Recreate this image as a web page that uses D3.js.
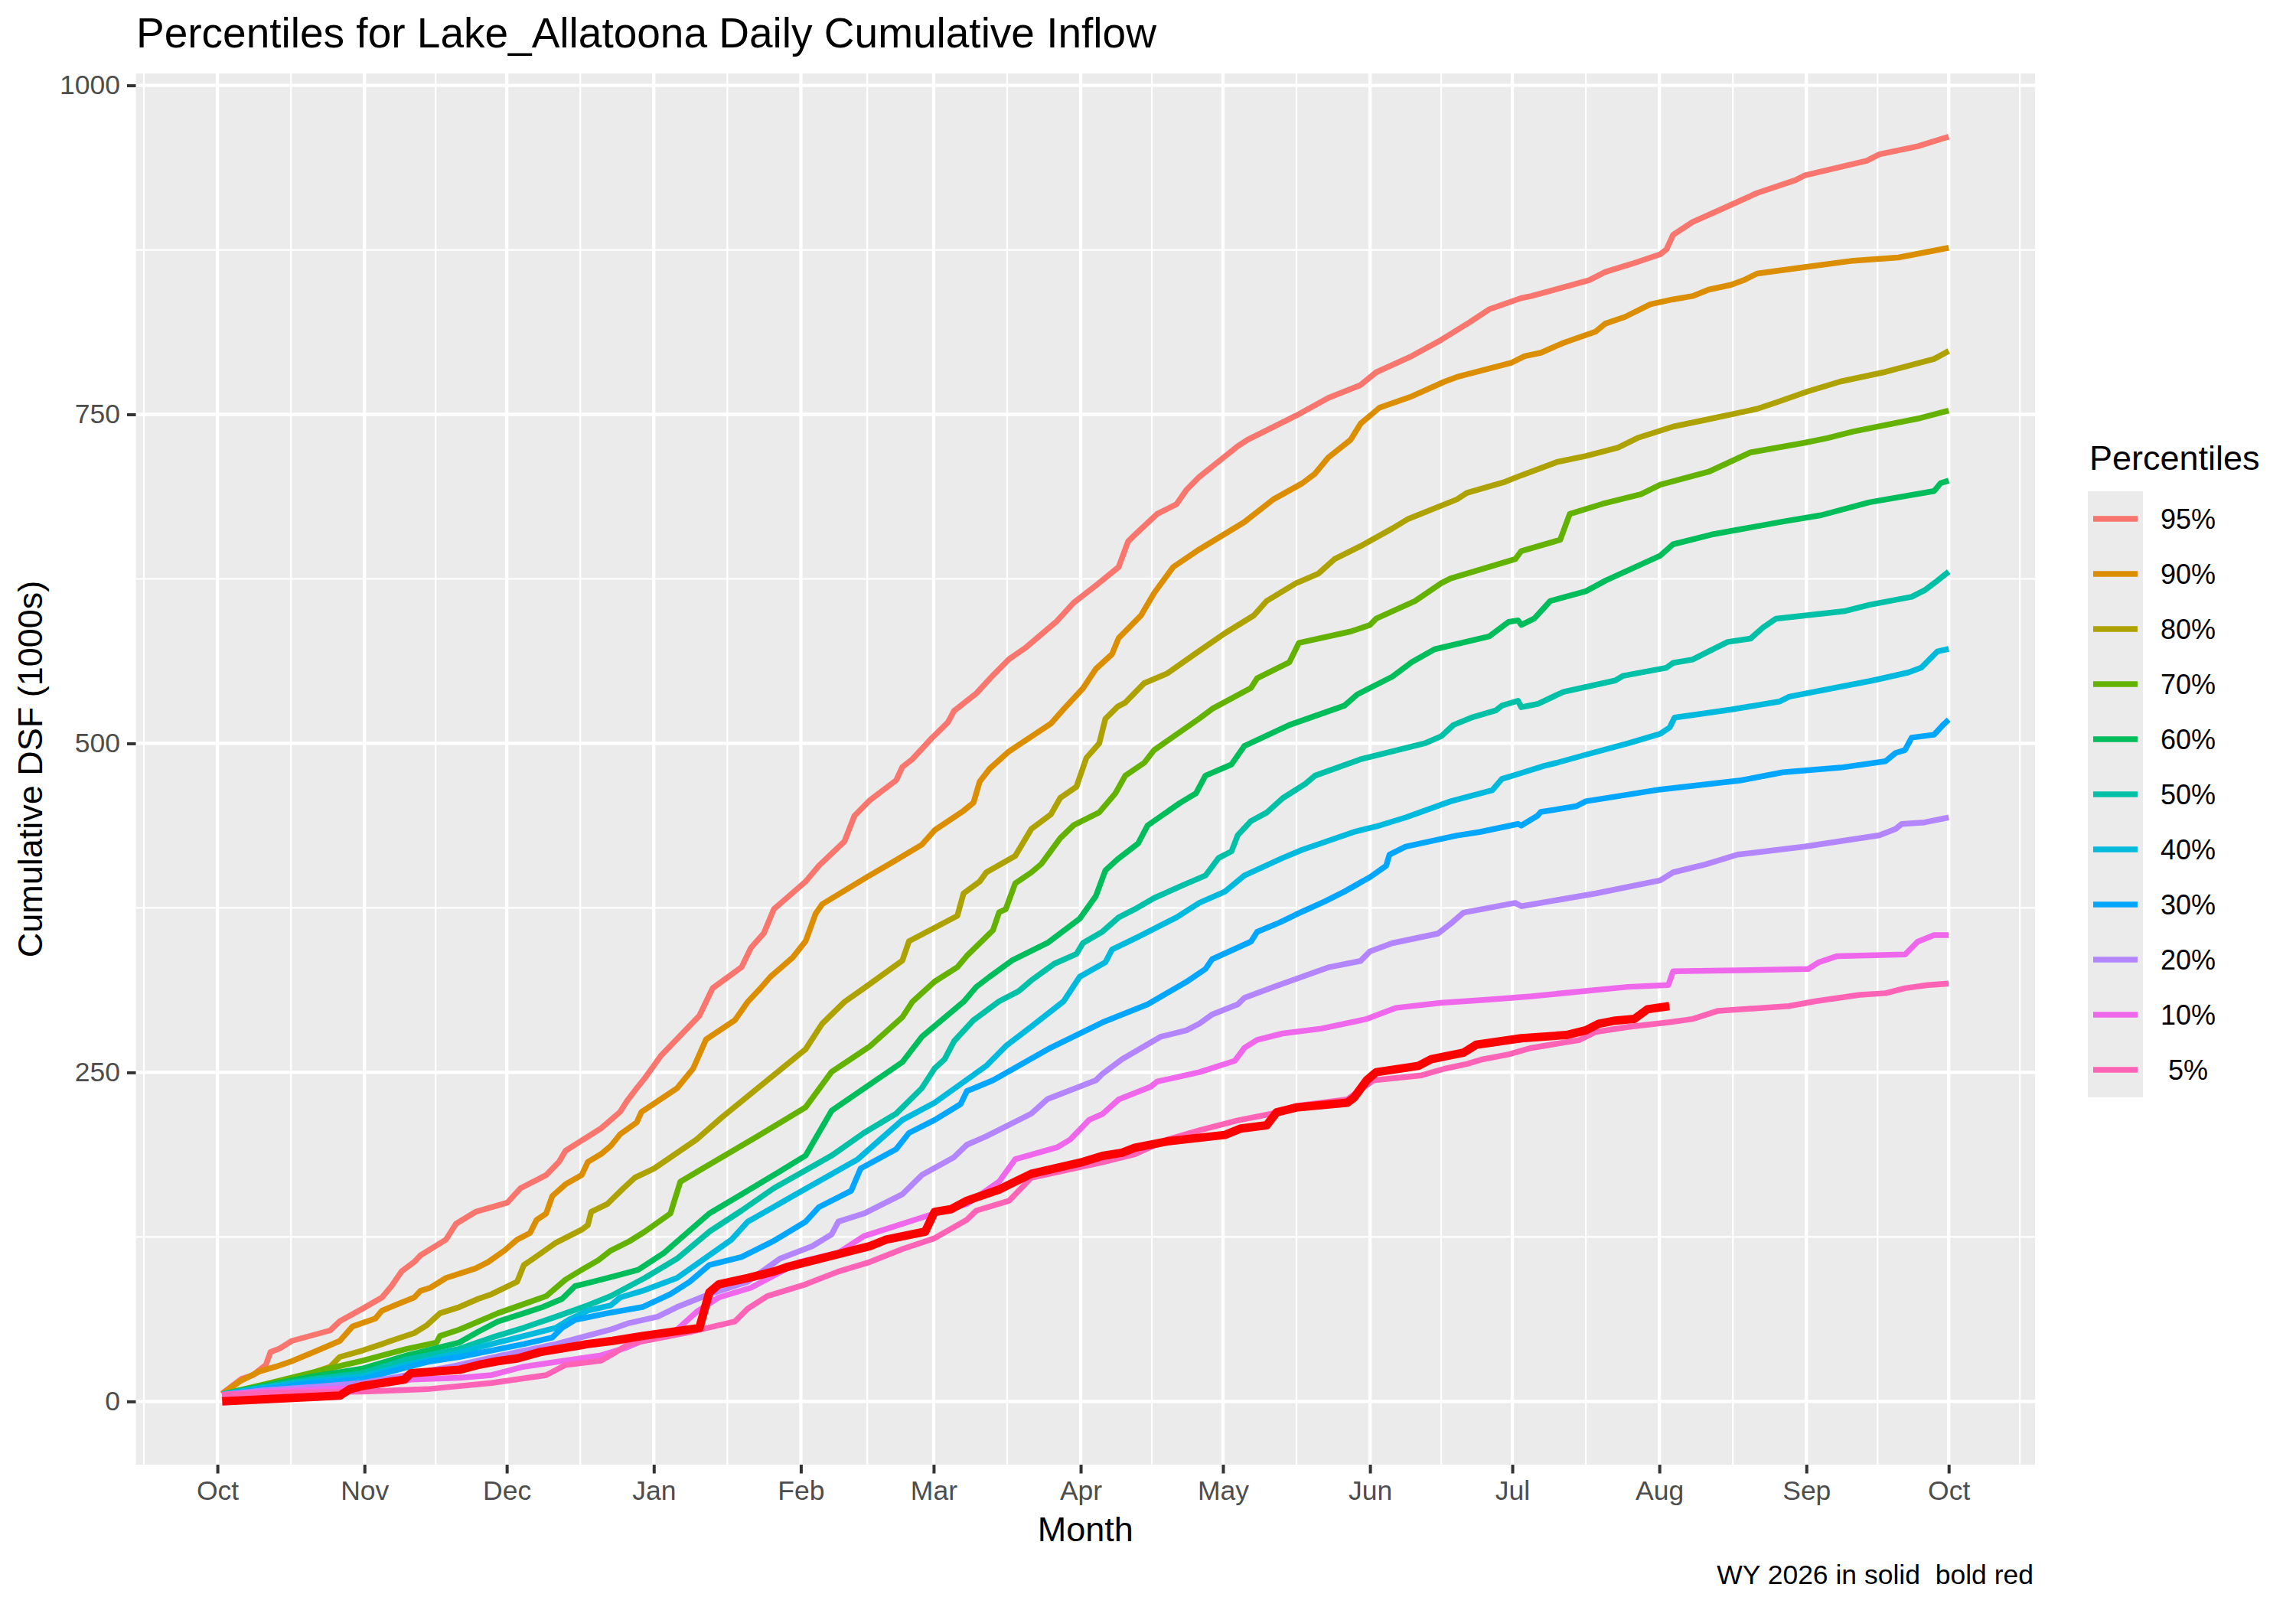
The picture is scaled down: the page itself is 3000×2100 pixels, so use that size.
<!doctype html>
<html>
  <head>
    <meta charset="utf-8">
    <title>Percentiles for Lake_Allatoona Daily Cumulative Inflow</title>
    <style>
      body { margin: 0; background: #fff; }
      svg { display: block; font-family: "Liberation Sans", Arial, sans-serif; }
      .panel { fill: #ebebeb; }
      .grid-major { stroke: #fff; stroke-width: 4.3px; }
      .grid-minor { stroke: #fff; stroke-width: 2.2px; }
      .axis text { fill: #4d4d4d; font-size: 35.5px; font-family: "Liberation Sans", Arial, sans-serif; }
      .axis line { stroke: #333; stroke-width: 4px; }
      .axis path { display: none; }
      .pline { fill: none; stroke-width: 7.5px; stroke-linejoin: round; stroke-linecap: butt; }
      .wyline { fill: none; stroke: #ff0000; stroke-width: 11px; stroke-linejoin: round; }
    </style>
  </head>
  <body>

  <script src="https://d3js.org/d3.v7.min.js" charset="utf-8"></script>

    <script>

    // series values: [day since Oct 1, cumulative DSF (1000s)]
    var p95 = [[1,6],[5,17],[7.5,20],[10.2,27.7],[11.2,37.5],[13,40],[15.7,46],[23.8,54],[25.8,61],[30.6,70.5],[34.7,79],[36.7,87.7],[38.8,98.7],[41.5,106],[42.8,111],[48.2,123],[50.3,135],[54.4,144],[61.1,151],[63.9,162],[69.3,172],[72,182],[73.4,190.5],[80.9,207.6],[84.9,220],[86.3,228],[88.4,238],[90.1,245.6],[93.5,262.7],[101.6,293],[104.4,314],[110.5,330],[112.5,344.8],[115.2,355.8],[117.3,374],[124,395],[126.8,407],[132.2,425.6],[134.3,445],[137.6,457],[143.1,472],[144.4,482],[146.5,488],[150.6,504],[154,516],[155.3,524.7],[160,538],[163.5,551.7],[166.9,564],[170.3,572.5],[177,593],[180.5,606.8],[185.2,620],[190,634],[192,653.5],[193.4,658.4],[198.1,674.3],[202.2,681.7],[204.3,692.7],[207,702.5],[210.4,712.3],[215.1,725.8],[217.2,730.7],[221.9,739.2],[227.4,749],[234.2,762.5],[241,772.3],[244.3,782],[251.8,794.3],[258,806.6],[264,820],[268.1,829.8],[274.9,838.4],[277,839.9],[289.2,852],[292.6,858.2],[298.1,864.3],[304.2,871.7],[305.5,875.4],[306.9,886.4],[311,896.2],[316.4,904.8],[324.6,918.2],[332.7,928],[334.7,931.7],[347.7,942.7],[350.4,947.6],[358.5,953.7],[365,961]];
    var p90 = [[1,5.5],[4.8,15.4],[8.9,22.8],[12.3,26.4],[15.7,30.6],[21.1,38.7],[25.8,46],[28.5,57],[33.3,63],[34.7,69],[37.4,73],[41.5,79],[42.8,84],[44.9,86.4],[48.2,93.8],[54.4,101],[57.1,106],[60.5,114.6],[63.2,123],[65.9,128],[67.3,138],[69.3,142.8],[70.6,156],[73.4,165],[76.8,172],[78.1,182],[80.9,188],[82.9,194],[84.9,203],[88.4,212],[89.4,220],[96.9,238],[100.3,253],[103,275],[109.1,289.7],[111.8,303.6],[114.5,314],[116.6,322.7],[121.3,337.4],[124,349.7],[126.1,370.5],[127.5,377.8],[137,398.6],[141.7,408.4],[148.5,423],[151.2,434],[157.3,448.8],[159.4,455],[160.7,470.9],[162.8,480.7],[166.9,494],[175.7,515],[178.4,526],[182.5,541.9],[185.2,556.6],[188.6,567.8],[190,580],[194.7,597.2],[197.5,614.3],[201.5,634],[207,647.4],[216.5,668.2],[222.6,685.4],[228.7,697.6],[231.4,705],[234.2,717.2],[238.9,730.7],[241,742.9],[245,755.1],[251.8,763.7],[258.6,774.7],[261.3,778.4],[272.9,789.4],[275.6,794.3],[279,796.8],[283.8,804.4],[290.6,813],[292.6,819],[296.7,824],[302.1,833.7],[306.9,837.4],[311,839.9],[314.4,844.8],[319.1,848.4],[321.8,852],[324.6,857],[334.7,861.9],[344.9,866.8],[354.4,869.2],[365,876.6]];
    var p80 = [[1,5.5],[8.9,10.5],[17,18],[23.8,26.4],[25.8,33.8],[30.6,38.7],[34.7,43.6],[37.4,47],[41.5,52],[44.2,58],[46.9,67],[51,71.7],[55,78],[57.8,81.5],[63.2,91],[64.6,103.6],[66.6,108.5],[71.4,120.7],[76.8,130.5],[78.1,134],[78.8,144],[82.2,150],[83.6,155],[85.6,162],[88,170],[92.1,177],[101,199],[106.4,216],[117.3,248],[124,267.6],[127.5,287],[132.2,303.6],[136.3,314],[144.4,335],[145.8,349.7],[156,369],[157.3,386],[160.7,395],[162.1,402],[168.2,414.5],[171.6,435],[175.7,446],[177.7,458.6],[181.1,467],[183.2,489],[185.9,500],[187.2,518.6],[189.8,528],[191.4,531],[195.4,545.8],[200.2,553.1],[207,570.3],[212.4,583.7],[218.5,597.2],[221.2,608.2],[227.4,621.7],[232.1,629],[235.5,640],[241,649.9],[247.7,663.3],[251.1,670.7],[261.3,685.4],[263.4,690.3],[271.5,698.8],[274.9,703.7],[282.4,713.8],[288.5,718.4],[295.3,724.8],[299.4,732.1],[306.9,740.7],[315,746.8],[324.6,754.2],[328.6,759],[335.4,767.6],[342.2,775],[351.7,782.3],[361.9,792.1],[365,798.2]];
    var p70 = [[1,5.5],[10,13],[20,22],[30.6,31],[40,40],[46.2,44.8],[46.9,49.7],[51,54.6],[55,60.7],[59.1,67],[64.6,74],[69.3,80],[73.4,92.6],[76.8,100],[80.2,107],[82.9,114.6],[87,122],[90.1,129],[95.5,142.8],[97.6,167],[102.3,177],[113.9,201.5],[124,223.5],[129.5,250.5],[137.6,270],[144.4,292],[146.5,303.6],[151.2,319],[156,330],[158,338.6],[163.5,358],[164.8,371.7],[166.2,374],[168.2,393.7],[171.6,402],[173.7,408.4],[177.7,428],[180.5,437.8],[185.9,447.6],[189.3,462],[191.4,475.5],[195.4,485.3],[197.5,495],[207,518.9],[209.7,526.2],[217.9,542.1],[219.2,549.5],[226,561.7],[228,576.4],[238.9,585],[243,590],[244.3,594.8],[252.5,608.2],[258,621.7],[260,625.4],[273.6,640],[274.9,646.2],[283.1,654.7],[285.1,674.3],[292,682],[300.1,689.3],[304.2,696.6],[314.4,706.4],[323.2,721.1],[334.7,728.5],[339.5,732.1],[344.9,737],[358.5,746.8],[365,752.9]];
    var p60 = [[1,5.5],[10,12],[20,19],[30.6,25],[40,35],[51,44.8],[55,53],[59.1,60.7],[64.6,67],[68.6,71.7],[72.7,78],[75.4,87.7],[78.1,90],[83.6,95],[88.7,100],[94.2,113],[103.7,142.8],[110.5,157.4],[117.3,172],[124,186.8],[129.5,221],[144.4,257.8],[148.5,277],[157.3,303.6],[160,315],[162.8,322.7],[167.5,335],[175,348.4],[181.8,366.8],[185.2,384],[187.2,403.5],[189.8,412],[194.1,424],[196.1,437.6],[202.9,454.7],[206.3,462],[208.3,475.5],[213.8,484],[216.5,498],[226,514],[237.6,528.7],[240.3,537.2],[247.7,550.7],[251.8,561.7],[256.6,571.5],[268.1,581.3],[272.2,592.3],[274.2,593.5],[274.9,590],[277.6,594.8],[281,608.2],[288.5,615.6],[292.6,623.6],[304.2,642.7],[306.9,651.3],[315,658.7],[330,668.5],[338.1,673.4],[348.3,683.2],[361.9,691.7],[363.3,697.8],[365,699.6]];
    var p50 = [[1,5.5],[10,11],[20,17],[30.6,21.5],[40,32],[51,40],[57.8,48.5],[64.6,56],[71.4,64.4],[78.1,73],[82.9,80],[90.1,93.8],[96.9,108.5],[103.7,129],[110.5,145],[117.3,162],[129.5,186.8],[136.3,204],[143.1,218.7],[148.5,238],[151.2,253],[153.3,260],[155.3,273.7],[159.4,289.7],[164.8,304],[168.9,311.7],[171.6,320],[175,328.8],[176.4,332.5],[181.1,340],[182.5,348.4],[186.6,357],[190,367.8],[193.4,374],[197.5,382.5],[203.6,392.3],[208.3,399.6],[211.1,413],[213.8,418],[215.1,430.2],[217.9,441],[221.2,447.4],[224.6,458.4],[229.4,469.4],[231.4,475.5],[240.9,487.8],[254.5,500],[258,505.4],[260.6,514],[264.7,520],[269.5,525],[270.8,528.7],[274.2,532.4],[274.9,527.5],[278.3,529.9],[283.8,539.2],[294.7,547.8],[296.4,551.4],[305.5,557.5],[306.9,561.2],[311,563.7],[315,571],[318.4,577.1],[323.2,579.6],[325.9,588.2],[328.6,594.8],[342.9,600.4],[348.3,605.3],[357.2,611.4],[359.9,616.3],[362.6,623.6],[365,630.5]];
    var p40 = [[1,5],[10,10.5],[20,15.5],[30.6,19],[40,28],[51,37],[57.8,43.6],[64.6,49.7],[71.4,56],[74.1,62],[78.1,69],[82.9,73],[84.9,79],[89.6,84],[96.9,93.8],[108.4,123],[111.8,136.6],[121.3,156],[135,184],[144.4,213.8],[151.2,227],[162.1,255],[166.2,270],[171.6,284.8],[178.4,304],[181.8,322.7],[187.2,333.7],[188.6,343.3],[194.1,353],[202.2,367.8],[207,378.8],[212.4,387.4],[216.5,399.6],[224.6,413],[228.7,419.2],[239.6,432.7],[245,437.6],[250.5,443.7],[260,456],[268.8,464.5],[270.8,473],[274.2,476.7],[279.7,482.9],[282.4,485.3],[288.5,491.4],[297.4,500],[304.2,507.3],[306.2,512.2],[307.2,519.6],[319.1,525.7],[329.3,531.8],[331.4,535.5],[349,547.8],[356.5,553.9],[359.2,557.5],[362.6,569.8],[365,571.8]];
    var p30 = [[1,5],[10,9.5],[20,14],[30.6,17],[40,26],[44.2,30],[51,33.8],[57.8,38.7],[64.6,43.6],[70.6,48.5],[72.7,56],[75.4,62],[82.2,67],[89.6,71.7],[95.5,81.5],[99.6,91],[103.7,103.6],[110.5,109.7],[117.3,122],[124,136.6],[126.8,147.6],[133.6,160],[135.6,177],[143.1,191.7],[145.8,204],[151.2,213.8],[156.7,226],[158,235.8],[163.5,244],[175.7,268.8],[186.6,288],[196.1,301.7],[204.3,318.8],[208.3,328.6],[209.7,336],[217.9,349.4],[219.2,356.8],[224,364],[227.4,370],[233.5,380],[237.6,387.4],[243,398.4],[246.4,407],[247.1,415.5],[250.5,421.6],[261.3,430],[266.1,432.7],[274.2,438.8],[274.9,437.6],[278.3,445],[279,447.9],[286.5,452.3],[288.5,456],[304.2,465],[321.2,471.9],[330,478],[342.2,481.6],[351.7,486.5],[353.8,492.7],[355.8,495],[357.2,504.4],[361.9,506.6],[364,514.7],[365,518]];
    var p20 = [[1,5],[10,8.5],[20,11],[30.6,14],[40,20],[50,27],[60,35],[71.4,43.6],[82.9,54.6],[86.7,59.5],[92.8,64.4],[96.9,71.7],[103.7,81.5],[111.8,91],[118.6,108.5],[125.4,118],[129.5,127],[130.9,136.6],[136.3,142.8],[144.4,157.4],[148.5,172],[155.3,185.6],[158,195],[162.1,201.5],[171.6,218.7],[175,229.7],[185.2,244],[186.6,249],[190.7,260],[195.4,269.8],[198.8,277],[204.3,282],[207,287],[209.7,294],[215.1,301.7],[216.5,306.6],[222,314],[227.4,321],[234.2,329.8],[241,334.7],[243,342],[247.7,348.2],[257.3,355.5],[260,363],[262.7,371.4],[273.6,378.8],[274.9,376.3],[277,377.6],[290.6,386],[304.2,396],[306.9,402],[313.7,408],[320.5,415.5],[334.7,421.6],[350.4,430.2],[353.8,435],[355.1,438.8],[359.9,440],[365,443.7]];
    var p10 = [[1,5],[10,7.5],[20,9],[30.6,10.5],[40.8,16.6],[51,18],[57.8,20],[64.6,26.4],[71.4,30],[80.9,35],[86.3,41],[89.6,46],[96.9,54.6],[101,68],[105.7,79],[112.5,86.4],[122.7,106],[130.9,113],[136.3,125.6],[151.2,142.8],[158,150],[164.8,167],[168.2,184],[177,193],[179.8,199],[183.8,214],[186.6,218.4],[190,229.4],[196.8,239.2],[198.1,243],[207,250.2],[214.5,258.8],[216.5,268.6],[219.2,274.7],[224.6,279.6],[232.8,283.3],[242.3,290.6],[248.4,299],[257.9,302.9],[268.1,305.3],[277,307.8],[287.2,311.5],[297.4,315],[305.9,316.4],[306.9,326.9],[317.8,327.4],[335.4,328.6],[337.5,333.5],[341.5,338.4],[355.8,339.6],[358.5,349.4],[361.9,354.3],[365,354.3]];
    var p05 = [[1,5],[10,6.5],[20,7],[30.6,7.5],[44.2,9.3],[57.8,14],[69.3,20],[73.4,27.7],[80.9,31],[83.3,36],[86.7,43.6],[100,53],[109.1,60.7],[111.8,70.5],[115.9,80],[124,89],[130.9,98.7],[137.6,106],[144.4,115.8],[151.2,124],[158,138],[160,145],[166.9,152.5],[171.6,170],[186.6,181.7],[193.4,187.8],[200.2,198.8],[207,206],[215.1,213.5],[222,218.4],[227.4,224.5],[238.2,229.4],[243.7,244],[253.9,247.8],[258.6,252.7],[263.4,256.4],[266.8,260],[272.2,263.7],[277,268.6],[287.2,274.7],[290.6,280.8],[297.4,284.5],[306.2,288.2],[311,290.6],[316.4,296.8],[331.3,300.4],[336.8,304],[346.3,309],[351.7,310.2],[355.8,314],[360.6,316.4],[365,317.5]];
    var wy2026 = [[1,0],[25.8,4.4],[27.9,9.3],[30.6,11.8],[39.4,16.6],[40.8,21.5],[51,24],[55,27.7],[59.1,30.6],[63.2,32.6],[68,37.5],[78.1,43.6],[83.3,46],[89.6,49.7],[101.6,55.8],[103.7,82.8],[105.7,89],[111.8,93.8],[117.3,98.7],[120,102],[137.6,118],[141,123],[149.2,129],[151.2,144],[154.6,146],[158,152.5],[164.8,161],[168.2,167],[171.6,173],[182.5,182],[186.6,186.6],[190.7,189],[193.4,192.7],[200.2,197.6],[212.4,202.5],[215.8,207.4],[221.2,209.8],[223.3,219.6],[227.4,223.3],[238.2,227],[239.6,230.7],[242.3,244],[244.3,250.2],[253.2,255],[255.9,260],[262.7,265],[265.4,271],[274.9,276],[284.4,278.4],[288.5,282],[291.2,287],[294.7,289.4],[298.7,290.6],[301.5,298],[306.1,300.4]];

    var percentileLabels = ["95%", "90%", "80%", "70%", "60%", "50%", "40%", "30%", "20%", "10%", " 5%"];
    var percentileSeries = [p95, p90, p80, p70, p60, p50, p40, p30, p20, p10, p05];
    var yTicks = [0, 250, 500, 750, 1000];

    // ggplot hue palette for 11 levels
    var colors = ["#F8766D", "#DB8E00", "#AEA200", "#64B200", "#00BD5C", "#00C1A7",
                  "#00BADE", "#00A6FF", "#B385FF", "#EF67EB", "#FF63B6"];

    var width = 3000, height = 2100;
    var panel = { left: 177.5, right: 2659, top: 96, bottom: 1914 };

    var origin = Date.UTC(2025, 9, 1);
    function toDate(day) { return new Date(origin + day * 864e5); }

    var svg = d3.select("body").append("svg")
      .attr("width", width)
      .attr("height", height);

    // 5% expansion like ggplot
    var all = percentileSeries.concat([wy2026]);
    var dayExt = [d3.min(all, function(s) { return d3.min(s, function(d) { return d[0]; }); }),
                  d3.max(all, function(s) { return d3.max(s, function(d) { return d[0]; }); })];
    var valExt = [d3.min(all, function(s) { return d3.min(s, function(d) { return d[1]; }); }),
                  d3.max(all, function(s) { return d3.max(s, function(d) { return d[1]; }); })];
    var dPad = (dayExt[1] - dayExt[0]) * 0.05,
        vPad = (valExt[1] - valExt[0]) * 0.05;

    var x = d3.scaleUtc()
      .domain([toDate(dayExt[0] - dPad), toDate(dayExt[1] + dPad)])
      .range([panel.left, panel.right]);

    var y = d3.scaleLinear()
      .domain([valExt[0] - vPad, valExt[1] + vPad])
      .range([panel.bottom, panel.top]);

    svg.append("rect")
      .attr("class", "panel")
      .attr("x", panel.left).attr("y", panel.top)
      .attr("width", panel.right - panel.left)
      .attr("height", panel.bottom - panel.top);

    // month breaks and minor breaks halfway between
    var majors = d3.utcMonth.range(new Date(origin), d3.utcDay.offset(toDate(365), 1));
    var minors = [];
    minors.push(new Date(majors[0] - (majors[1] - majors[0]) / 2));
    for (var i = 0; i < majors.length - 1; i++) {
      minors.push(new Date((+majors[i] + +majors[i + 1]) / 2));
    }
    var n = majors.length;
    minors.push(new Date(+majors[n - 1] + (majors[n - 1] - majors[n - 2]) / 2));

    var yMinors = [];
    for (var j = 0; j < yTicks.length - 1; j++) yMinors.push((yTicks[j] + yTicks[j + 1]) / 2);

    var grid = svg.append("g");
    grid.selectAll(".ymin").data(yMinors).enter().append("line")
      .attr("class", "grid-minor")
      .attr("x1", panel.left).attr("x2", panel.right)
      .attr("y1", function(d) { return y(d); }).attr("y2", function(d) { return y(d); });
    grid.selectAll(".xmin").data(minors.filter(function(d) { return x(d) > panel.left && x(d) < panel.right; }))
      .enter().append("line")
      .attr("class", "grid-minor")
      .attr("y1", panel.top).attr("y2", panel.bottom)
      .attr("x1", function(d) { return x(d); }).attr("x2", function(d) { return x(d); });
    grid.selectAll(".ymaj").data(yTicks).enter().append("line")
      .attr("class", "grid-major")
      .attr("x1", panel.left).attr("x2", panel.right)
      .attr("y1", function(d) { return y(d); }).attr("y2", function(d) { return y(d); });
    grid.selectAll(".xmaj").data(majors).enter().append("line")
      .attr("class", "grid-major")
      .attr("y1", panel.top).attr("y2", panel.bottom)
      .attr("x1", function(d) { return x(d); }).attr("x2", function(d) { return x(d); });

    var line = d3.line()
      .x(function(d) { return x(toDate(d[0])); })
      .y(function(d) { return y(d[1]); });

    var lines = svg.append("g");
    percentileSeries.forEach(function(s, k) {
      lines.append("path")
        .datum(s)
        .attr("class", "pline")
        .attr("stroke", colors[k])
        .attr("d", line);
    });
    lines.append("path")
      .datum(wy2026)
      .attr("class", "wyline")
      .attr("d", line);

    // axes
    svg.append("g")
      .attr("class", "axis")
      .attr("transform", "translate(0," + panel.bottom + ")")
      .call(d3.axisBottom(x).tickValues(majors).tickFormat(d3.utcFormat("%b"))
        .tickSize(11.5).tickPadding(9));

    svg.append("g")
      .attr("class", "axis")
      .attr("transform", "translate(" + panel.left + ",0)")
      .call(d3.axisLeft(y).tickValues(yTicks).tickFormat(d3.format("d"))
        .tickSize(11.5).tickPadding(9));

    svg.selectAll(".axis .tick line").attr("stroke", "#333");

    // titles
    svg.append("text")
      .attr("x", 178).attr("y", 62)
      .attr("font-size", "55px")
      .attr("fill", "#000")
      .text("Percentiles for Lake_Allatoona Daily Cumulative Inflow");

    svg.append("text")
      .attr("x", (panel.left + panel.right) / 2).attr("y", 2014)
      .attr("text-anchor", "middle")
      .attr("font-size", "45px")
      .text("Month");

    svg.append("text")
      .attr("transform", "translate(55," + (panel.top + panel.bottom) / 2 + ") rotate(-90)")
      .attr("text-anchor", "middle")
      .attr("font-size", "45px")
      .text("Cumulative DSF (1000s)");

    svg.append("text")
      .attr("x", panel.right - 2).attr("y", 2070)
      .attr("text-anchor", "end")
      .attr("font-size", "35.5px")
      .style("white-space", "pre")
      .text("WY 2026 in solid  bold red");

    // legend
    var legend = svg.append("g").attr("transform", "translate(2728,642)");
    var keyH = 72;
    legend.append("text")
      .attr("x", 2).attr("y", -28)
      .attr("font-size", "45px")
      .text("Percentiles");
    legend.append("rect")
      .attr("width", 72).attr("height", keyH * percentileLabels.length)
      .attr("fill", "#ebebeb");
    var items = legend.selectAll(".item").data(percentileLabels).enter().append("g")
      .attr("transform", function(d, k) { return "translate(0," + (k * keyH + keyH / 2) + ")"; });
    items.append("line")
      .attr("x1", 7).attr("x2", 65)
      .attr("stroke", function(d, k) { return colors[k]; })
      .attr("stroke-width", 7.5);
    items.append("text")
      .attr("x", 95).attr("y", 12.5)
      .attr("font-size", "36px")
      .style("white-space", "pre")
      .text(function(d) { return d; });

    </script>

  </body>
</html>
